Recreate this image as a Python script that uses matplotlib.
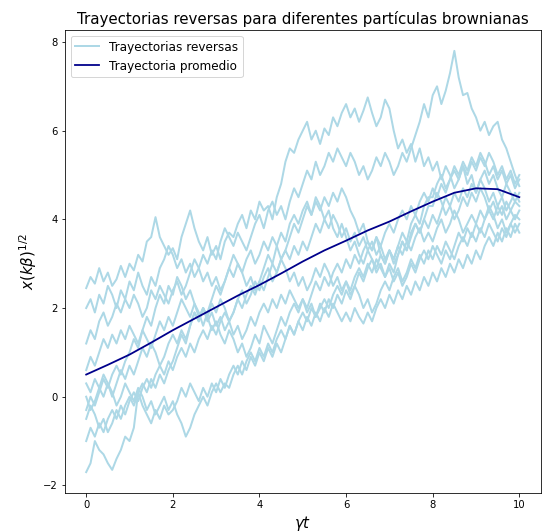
import numpy as np
import matplotlib.pyplot as plt

# tiempo adimensional gamma*t, paso 0.1
t = np.linspace(0, 10, 101)

tray1 = [2.45, 2.7, 2.55, 2.9, 2.6, 2.8, 2.5, 2.65, 2.95, 2.7,
         3.0, 2.85, 3.2, 3.05, 3.5, 3.6, 4.05, 3.6, 3.4, 3.2,
         3.35, 3.1, 3.6, 3.9, 4.2, 3.8, 3.5, 3.3, 3.6, 3.2,
         3.4, 3.1, 3.5, 3.7, 3.6, 3.9, 4.1, 3.8, 4.2, 4.0,
         4.4, 4.2, 4.3, 4.0, 4.5, 4.8, 5.3, 5.6, 5.5, 5.8,
         6.0, 6.2, 5.8, 6.0, 5.7, 6.05, 5.9, 6.3, 6.1, 6.4,
         6.6, 6.3, 6.5, 6.2, 6.45, 6.75, 6.4, 6.1, 6.3, 6.7,
         6.5, 6.0, 5.6, 5.8, 5.5, 5.7, 5.3, 5.6, 5.2, 5.4,
         5.1, 5.3, 4.9, 5.2, 5.0, 4.7, 4.9, 5.2, 4.8, 5.0,
         4.6, 4.9, 5.1, 4.8, 5.0, 4.7, 4.5, 4.8, 4.6, 4.4, 4.6]
tray2 = [2.0, 2.2, 1.9, 2.3, 2.1, 2.5, 2.3, 2.0, 2.4, 2.2,
         2.6, 2.4, 2.8, 2.5, 2.3, 2.7, 2.5, 2.9, 3.1, 3.4,
         3.2, 2.9, 3.1, 2.8, 3.0, 2.7, 2.9, 3.2, 3.0, 3.3,
         3.1, 3.5, 3.8, 3.6, 3.4, 3.7, 3.5, 3.3, 3.6, 3.9,
         4.1, 3.8, 4.2, 4.4, 4.1, 4.3, 4.0, 4.4, 4.7, 4.5,
         4.8, 5.1, 4.9, 5.3, 5.0, 5.2, 5.5, 5.3, 5.6, 5.4,
         5.2, 5.5, 5.3, 5.0, 5.2, 4.9, 5.1, 5.4, 5.2, 5.5,
         5.3, 5.0, 5.2, 5.5, 5.3, 5.6, 5.9, 6.2, 6.6, 6.3,
         6.8, 7.0, 6.6, 6.9, 7.3, 7.8, 7.2, 6.8, 6.85, 6.5,
         6.3, 6.0, 6.2, 5.9, 6.1, 6.2, 5.8, 5.6, 5.3, 5.0, 4.75]
tray3 = [1.2, 1.5, 1.3, 1.7, 1.9, 1.6, 1.8, 2.1, 1.9, 2.2,
         2.0, 2.3, 2.1, 1.8, 2.0, 2.4, 2.2, 2.5, 2.3, 2.1,
         2.4, 2.6, 2.3, 2.5, 2.8, 3.1, 2.9, 2.6, 2.8, 2.5,
         2.7, 2.4, 2.6, 2.9, 3.2, 3.0, 2.8, 3.1, 3.3, 3.0,
         3.2, 3.5, 3.3, 3.6, 3.4, 3.1, 3.3, 3.6, 3.9, 3.7,
         4.0, 4.3, 4.1, 4.4, 4.2, 4.5, 4.3, 4.6, 4.4, 4.7,
         4.5, 4.2, 4.0, 3.7, 3.9, 3.5, 3.3, 3.6, 3.2, 3.0,
         3.3, 3.1, 3.4, 3.7, 3.5, 3.9, 4.1, 3.9, 4.3, 4.5,
         4.5, 4.8, 5.0, 4.7, 4.9, 5.2, 5.0, 5.3, 5.1, 5.4,
         5.2, 5.5, 5.3, 5.0, 5.2, 4.9, 5.1, 4.8, 5.0, 4.7, 4.9]
tray4 = [0.6, 0.9, 0.7, 1.0, 1.3, 1.1, 1.4, 1.2, 1.5, 1.3,
         1.6, 1.4, 1.2, 1.5, 1.3, 1.1, 1.4, 1.7, 1.5, 1.8,
         1.6, 1.9, 2.2, 2.0, 1.8, 2.1, 1.9, 1.6, 1.9, 2.2,
         2.5, 2.3, 2.6, 2.9, 2.7, 3.0, 2.8, 2.5, 2.7, 2.4,
         2.6, 2.9, 3.2, 3.0, 3.4, 3.7, 3.5, 3.9, 4.1, 3.9,
         4.2, 4.4, 4.1, 4.5, 4.3, 4.0, 4.2, 3.8, 3.6, 3.9,
         3.6, 3.3, 3.5, 3.2, 3.0, 3.3, 3.1, 2.8, 3.0, 2.7,
         3.0, 2.8, 3.2, 3.5, 3.3, 3.7, 3.9, 3.7, 4.0, 4.3,
         4.3, 4.6, 4.4, 4.1, 4.3, 4.0, 4.2, 4.5, 4.3, 4.6,
         4.4, 4.7, 4.5, 4.2, 4.4, 4.1, 4.3, 4.0, 4.2, 4.4, 4.3]
tray5 = [0.3, 0.1, 0.4, 0.2, 0.5, 0.3, 0.0, 0.3, 0.6, 0.4,
         0.7, 0.5, 0.8, 1.1, 0.9, 1.2, 1.0, 0.7, 0.9, 1.2,
         1.4, 1.2, 1.5, 1.3, 1.6, 1.9, 1.7, 2.0, 1.8, 2.1,
         1.9, 2.2, 2.0, 1.7, 1.9, 2.2, 2.4, 2.1, 2.3, 2.6,
         2.4, 2.7, 2.9, 2.6, 2.8, 3.1, 2.9, 2.6, 2.8, 2.5,
         2.7, 2.4, 2.6, 2.9, 2.7, 3.0, 2.8, 2.5, 2.7, 2.4,
         2.6, 2.3, 2.5, 2.8, 2.6, 2.9, 3.1, 2.9, 3.2, 3.0,
         3.3, 3.1, 3.4, 3.2, 3.5, 3.3, 3.6, 3.8, 3.5, 3.7,
         3.5, 3.8, 4.0, 3.7, 3.9, 4.2, 4.0, 3.7, 3.9, 4.1,
         3.9, 4.2, 4.0, 4.3, 4.1, 3.8, 4.0, 3.7, 3.9, 4.1, 4.0]
tray6 = [0.0, -0.3, -0.1, 0.2, 0.0, 0.3, 0.1, -0.2, 0.0, 0.3,
         0.1, -0.1, 0.2, 0.0, -0.3, -0.1, -0.4, -0.2, 0.0, -0.3,
         -0.1, -0.4, -0.6, -0.9, -0.7, -0.4, -0.2, 0.0, -0.2, 0.1,
         0.3, 0.1, 0.3, 0.2, 0.5, 0.7, 0.5, 0.8, 1.0, 0.8,
         1.1, 0.9, 1.2, 1.0, 1.3, 1.5, 1.3, 1.6, 1.4, 1.7,
         1.9, 1.7, 2.0, 1.8, 2.1, 1.9, 2.2, 2.0, 2.3, 2.1,
         2.4, 2.2, 2.5, 2.3, 2.0, 2.2, 1.9, 2.1, 2.4, 2.6,
         2.4, 2.7, 2.9, 2.6, 2.8, 3.1, 2.9, 3.2, 3.0, 3.3,
         3.1, 3.4, 3.2, 3.5, 3.3, 3.1, 3.4, 3.6, 3.4, 3.7,
         3.5, 3.8, 3.6, 3.9, 3.7, 3.5, 3.8, 3.6, 3.9, 3.7, 3.9]
tray7 = [-0.3, 0.0, -0.2, 0.1, 0.4, 0.2, 0.5, 0.7, 0.5, 0.8,
         1.0, 1.3, 1.1, 1.5, 1.8, 1.6, 2.0, 2.3, 2.1, 2.5,
         2.3, 2.7, 2.5, 2.2, 2.4, 2.1, 1.8, 2.0, 1.7, 1.9,
         1.6, 1.8, 1.5, 1.7, 1.9, 2.2, 2.0, 2.3, 2.5, 2.3,
         2.6, 2.4, 2.7, 3.0, 2.8, 3.1, 3.3, 3.1, 3.4, 3.2,
         3.5, 3.3, 3.6, 3.9, 3.7, 4.0, 3.8, 4.1, 3.9, 3.6,
         3.8, 3.5, 3.7, 3.4, 3.6, 3.3, 3.5, 3.2, 3.4, 3.1,
         3.3, 3.0, 3.2, 3.5, 3.3, 3.6, 3.9, 3.7, 4.0, 3.8,
         4.1, 3.9, 4.2, 4.5, 4.3, 4.6, 4.4, 4.7, 4.5, 4.8,
         4.6, 4.9, 4.7, 4.4, 4.6, 4.3, 4.5, 4.2, 4.4, 4.6, 4.4]
tray8 = [-0.5, -0.2, -0.4, -0.7, -0.5, -0.8, -0.6, -0.3, -0.5, -0.2,
         0.0, -0.2, 0.1, 0.3, 0.1, 0.4, 0.2, 0.5, 0.3, 0.6,
         0.8, 1.1, 1.4, 1.2, 1.6, 1.9, 1.7, 2.0, 1.8, 1.5,
         1.7, 1.4, 1.2, 1.5, 1.3, 1.0, 1.2, 0.9, 1.1, 1.4,
         1.2, 1.6, 1.4, 1.2, 1.5, 1.8, 1.6, 1.9, 2.1, 1.9,
         2.2, 2.0, 2.3, 2.6, 2.4, 2.7, 2.5, 2.8, 3.0, 2.8,
         3.1, 2.9, 3.2, 3.0, 3.3, 3.5, 3.3, 3.6, 3.4, 3.7,
         3.9, 3.7, 4.0, 4.2, 4.0, 4.3, 4.1, 4.4, 4.6, 4.4,
         4.7, 4.5, 4.8, 4.6, 4.9, 5.1, 4.9, 5.2, 5.0, 5.3,
         5.1, 5.4, 5.2, 5.5, 5.3, 5.0, 5.2, 4.9, 5.1, 4.8, 5.0]
tray9 = [-1.0, -0.7, -0.9, -0.6, -0.8, -0.5, -0.3, -0.5, -0.2, -0.4,
         -0.1, 0.1, -0.1, 0.2, 0.4, 0.2, 0.5, 0.7, 0.5, 0.8,
         0.6, 0.9, 1.1, 0.9, 1.2, 1.0, 1.3, 1.5, 1.3, 1.6,
         1.4, 1.7, 1.9, 1.7, 1.4, 1.6, 1.3, 1.5, 1.8, 1.6,
         1.9, 2.1, 1.9, 2.2, 2.0, 2.3, 2.1, 2.4, 2.2, 2.0,
         2.2, 1.9, 2.1, 1.8, 2.0, 2.2, 2.0, 2.3, 2.5, 2.3,
         2.6, 2.4, 2.7, 2.9, 2.7, 3.0, 2.8, 3.1, 2.9, 2.7,
         2.9, 2.6, 2.8, 2.5, 2.7, 3.0, 2.8, 3.1, 3.3, 3.1,
         3.4, 3.2, 3.0, 3.3, 3.1, 3.4, 3.7, 3.5, 3.8, 3.6,
         3.9, 3.7, 4.0, 4.2, 4.0, 4.3, 4.1, 4.4, 4.2, 4.0, 4.2]
tray10 = [-1.7, -1.5, -1.0, -1.2, -1.3, -1.5, -1.65, -1.4, -1.2, -0.9,
          -1.0, -0.7, 0.1, -0.2, -0.4, -0.6, -0.3, -0.5, -0.2, -0.4,
          -0.3, -0.1, 0.2, 0.0, 0.3, 0.1, -0.1, 0.2, 0.0, 0.3,
          0.1, 0.4, 0.2, 0.5, 0.7, 0.5, 0.8, 0.6, 0.9, 0.7,
          1.0, 0.8, 1.1, 0.9, 1.2, 1.0, 1.3, 1.6, 1.4, 1.7,
          1.5, 1.8, 1.6, 1.9, 1.7, 2.0, 1.8, 2.1, 1.9, 1.7,
          1.9, 1.7, 2.0, 1.8, 1.65, 1.9, 1.7, 2.0, 2.2, 2.0,
          2.3, 2.1, 2.4, 2.2, 2.5, 2.3, 2.6, 2.4, 2.7, 2.5,
          2.8, 2.6, 2.9, 2.7, 3.0, 2.8, 3.1, 2.9, 3.2, 3.0,
          3.3, 3.1, 3.4, 3.6, 3.4, 3.7, 3.5, 3.8, 3.6, 3.9, 3.7]

trayectorias = [tray1, tray2, tray3, tray4, tray5,
                tray6, tray7, tray8, tray9, tray10]

# trayectoria promedio (sobre muchas particulas), paso 0.5
t_prom = np.linspace(0, 10, 21)
x_prom = [0.5, 0.72, 0.95, 1.22, 1.5, 1.76, 2.02, 2.28, 2.52, 2.78,
          3.05, 3.3, 3.52, 3.75, 3.95, 4.18, 4.4, 4.6, 4.7, 4.68, 4.5]

fig = plt.figure(figsize=(547 / 72, 532 / 72), dpi=72)
ax = fig.add_axes([0.118, 0.073, 0.871, 0.871])

for i, x in enumerate(trayectorias):
    ax.plot(t, x, color='lightblue', lw=2,
            label='Trayectorias reversas' if i == 0 else None)
ax.plot(t_prom, x_prom, color='darkblue', lw=1.8, label='Trayectoria promedio')

ax.set_title('Trayectorias reversas para diferentes partículas brownianas', fontsize=15)
ax.set_xlabel(r'$\gamma t$', fontsize=15)
ax.set_ylabel(r'$x(k\beta)^{1/2}$', fontsize=15)
ax.legend(loc='upper left', fontsize=12)

fig.savefig('out.png', dpi=72)
